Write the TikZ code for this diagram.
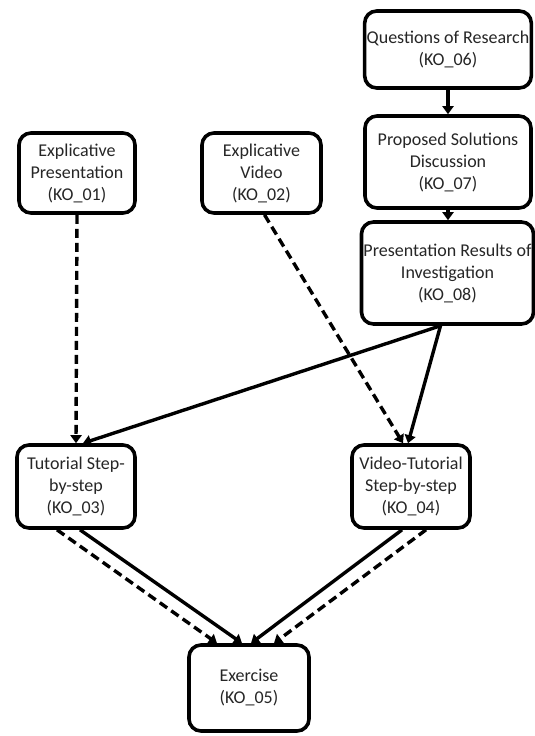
\documentclass[tikz,border=0pt]{standalone}
\usepackage{fontspec}
\setmainfont{Carlito}
\usetikzlibrary{arrows.meta}
\begin{document}
\begin{tikzpicture}[x=1pt,y=-1pt,
  kobox/.style={draw=black, line width=3.6pt, rounded corners=12pt, fill=white,
    align=center, inner sep=2pt, text=black!85,
    font=\fontsize{18}{22}\selectfont},
  flow/.style={line width=3.4pt, -{Triangle[length=8pt,width=11pt]}},
  dflow/.style={flow, dash pattern=on 9pt off 5pt}
]
\useasboundingbox (0,0) rectangle (535,736);

% learning objects
\node[kobox, minimum width=166pt, minimum height=77pt] (k6) at (448,49.5) {Questions of Research\\(KO\_06)};
\node[kobox, minimum width=166pt, minimum height=92pt] (k7) at (448,162) {Proposed Solutions\\Discussion\\(KO\_07)};
\node[kobox, minimum width=167pt, minimum height=102pt] (k8) at (447.5,273) {Presentation Results of\\Investigation\\(KO\_08)};
\node[kobox, minimum width=116pt, minimum height=80pt] (k1) at (77,173) {Explicative\\Presentation\\(KO\_01)};
\node[kobox, minimum width=119pt, minimum height=80pt] (k2) at (261.5,173) {Explicative\\Video\\(KO\_02)};
\node[kobox, minimum width=118pt, minimum height=83pt] (k3) at (76,486.5) {Tutorial Step-\\by-step\\(KO\_03)};
\node[kobox, minimum width=118pt, minimum height=83pt] (k4) at (411,486.5) {Video-Tutorial\\Step-by-step\\(KO\_04)};
\node[kobox, minimum width=120pt, minimum height=86pt] (k5) at (249,688) {Exercise\\(KO\_05)};

% research chain
\draw[flow] (k6.south) -- (k7.north);
\draw[flow] (k7.south) -- (k7.south |- k8.north);

% explicative material to tutorials
\draw[dflow] (k1.south) -- (k3.north);
\draw[dflow] ([xshift=3pt]k2.south) -- ([xshift=-8pt]k4.north);

% investigation results to tutorials
\draw[flow] ([xshift=-7pt]k8.south) -- ([xshift=7pt]k3.north);
\draw[flow] ([xshift=-7pt]k8.south) -- ([xshift=-3pt]k4.north);

% tutorials to exercise
\draw[dflow] ([xshift=-19pt]k3.south) -- ([xshift=-32pt]k5.north);
\draw[flow] ([xshift=4pt]k3.south) -- ([xshift=-7pt]k5.north);
\draw[flow] ([xshift=-9pt]k4.south) -- ([xshift=2pt]k5.north);
\draw[dflow] ([xshift=15pt]k4.south) -- ([xshift=25pt]k5.north);
\end{tikzpicture}
\end{document}
